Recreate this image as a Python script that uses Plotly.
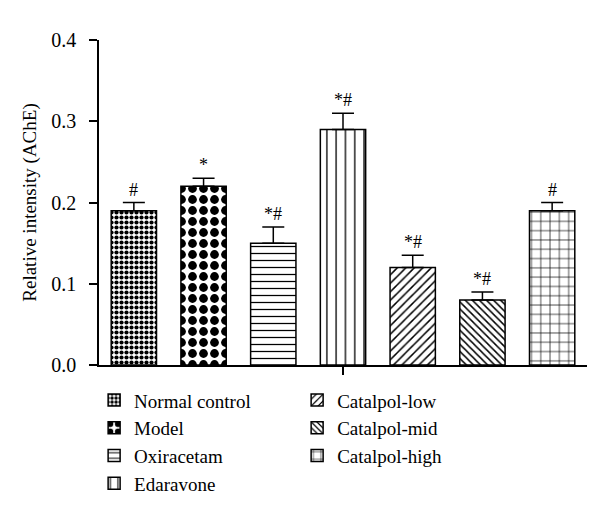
import plotly.graph_objects as go

groups = ["Normal control", "Model", "Oxiracetam", "Edaravone",
          "Catalpol-low", "Catalpol-mid", "Catalpol-high"]
values = [0.19, 0.22, 0.15, 0.29, 0.12, 0.08, 0.19]
errors = [0.010, 0.010, 0.020, 0.020, 0.015, 0.010, 0.010]
marks = ["#", "*", "*#", "*#", "*#", "*#", "#"]

patterns = [
    dict(shape=".", size=5, solidity=0.55),
    dict(shape=".", size=11, solidity=0.5),
    dict(shape="-", size=7, solidity=0.18),
    dict(shape="|", size=9.3, solidity=0.14),
    dict(shape="/", size=6, solidity=0.25),
    dict(shape="\\", size=5, solidity=0.3),
    dict(shape="+", size=9.3, solidity=0.14),
]
legend_ids = ["legend", "legend", "legend", "legend", "legend2", "legend2", "legend2"]

FONT = "Liberation Serif"

fig = go.Figure()
for i, name in enumerate(groups):
    p = patterns[i]
    fig.add_trace(go.Bar(
        x=[i], y=[values[i]], name=name, width=0.65,
        marker=dict(color="white", line=dict(color="black", width=1.5),
                    pattern=dict(shape=p["shape"], size=p["size"], solidity=p["solidity"],
                                 fgcolor="black", bgcolor="white", fillmode="replace")),
        error_y=dict(type="data", array=[errors[i]], arrayminus=[0], symmetric=False,
                     color="black", thickness=1.5, width=11),
        legend=legend_ids[i],
    ))
    fig.add_annotation(x=i, y=values[i] + errors[i], text=marks[i], showarrow=False,
                       yanchor="bottom", yshift=1, font=dict(family=FONT, size=18, color="black"))

fig.update_layout(
    width=600, height=513,
    margin=dict(l=91, r=21, t=32, b=156),
    plot_bgcolor="white", paper_bgcolor="white",
    font=dict(family=FONT, size=18, color="black"),
    showlegend=True,
    legend=dict(x=-0.01, y=-0.05, xanchor="left", yanchor="top", orientation="v",
                font=dict(family=FONT, size=19), bgcolor="rgba(0,0,0,0)"),
    legend2=dict(x=0.406, y=-0.05, xanchor="left", yanchor="top", orientation="v",
                 font=dict(family=FONT, size=19), bgcolor="rgba(0,0,0,0)"),
    bargap=0.35,
)
fig.update_xaxes(range=[-0.5, 6.5], showline=True, linecolor="black", linewidth=1.5,
                 tickvals=[3], ticktext=[""], ticks="outside", ticklen=8, tickwidth=1.5,
                 tickcolor="black", showgrid=False, zeroline=False)
fig.update_yaxes(range=[0, 0.4], dtick=0.1, tickformat=".1f", showline=True, linecolor="black",
                 linewidth=1.5, ticks="outside", ticklen=8, tickwidth=1.5, tickcolor="black",
                 ticklabelstandoff=9,
                 showgrid=False, zeroline=False, tickfont=dict(family=FONT, size=20),
                 title=dict(text="Relative intensity (AChE)", font=dict(family=FONT, size=19), standoff=10))

fig.write_html("out.html")
